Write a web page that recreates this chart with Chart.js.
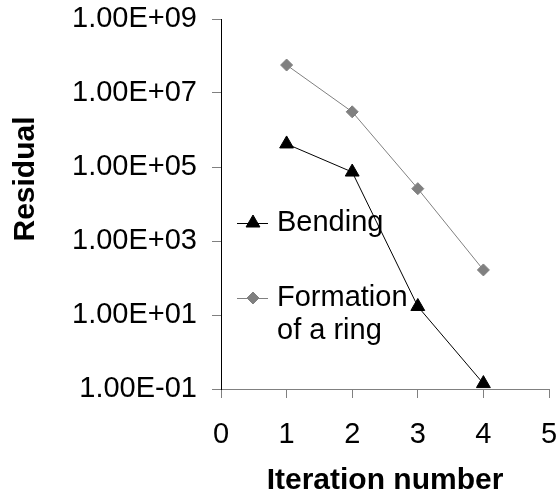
<!DOCTYPE html>
<html>
<head>
<meta charset="utf-8">
<script src="https://cdn.jsdelivr.net/npm/chart.js@4.4.0/dist/chart.umd.min.js"></script>
<style>
  html, body { margin: 0; padding: 0; background: #fff; }
  #wrap { width: 558px; height: 498px; }
</style>
</head>
<body>
<div id="wrap"><canvas id="residual-canvas" width="558" height="498"></canvas></div>
<script>
/* Residual vs iteration */
const iterations = [1, 2, 3, 4];
const bending = [4.2e5, 7.3e4, 17, 0.14];
const ring = [5.7e7, 3.1e6, 2.6e4, 165];
const yTicks = [1e-1, 1e1, 1e3, 1e5, 1e7, 1e9];
const yTickLabels = ['1.00E-01', '1.00E+01', '1.00E+03', '1.00E+05', '1.00E+07', '1.00E+09'];
const xTicks = [0, 1, 2, 3, 4, 5];
const seriesLabels = [['Bending'], ['Formation', 'of a ring']];

const FONT = '"Liberation Sans", Arial, sans-serif';

function points(ys){
  return iterations.map((x, i) => ({x: x, y: ys[i]}));
}

// no extra room for overflowing tick labels, layout padding decides
function noLabelPadding(s){
  s.paddingTop = 0;
  s.paddingBottom = 0;
  s.paddingLeft = 0;
  s.paddingRight = 0;
}

// legend sits inside the plot, drawn under the lines
const insideLegend = {
  id: 'insideLegend',
  beforeDatasetsDraw(chart){
    const ctx = chart.ctx;
    const a = chart.chartArea;
    const rows = [a.top + 204, a.top + 279];
    const x0 = a.left + 16;
    ctx.save();
    chart.data.datasets.forEach(function(ds, i){
      const y = rows[i];
      ctx.strokeStyle = ds.borderColor;
      ctx.fillStyle = ds.pointBackgroundColor;
      ctx.lineWidth = 1;
      ctx.beginPath();
      ctx.moveTo(x0, y + 0.5);
      ctx.lineTo(x0 + 31, y + 0.5);
      ctx.stroke();
      Chart.helpers.drawPoint(ctx, {
        pointStyle: ds.pointStyle, radius: ds.pointRadius, rotation: 0, borderWidth: 1
      }, x0 + 16, y);
      ctx.fillStyle = '#000';
      ctx.font = '29px ' + FONT;
      ctx.textAlign = 'left';
      ctx.textBaseline = 'middle';
      seriesLabels[i].forEach((line, j) => ctx.fillText(line, x0 + 40, y + j * 33));
    });
    ctx.restore();
  }
};

const yTitle = {
  id: 'yTitle',
  afterDraw(chart){
    const ctx = chart.ctx;
    ctx.save();
    ctx.translate(26, 179);
    ctx.rotate(-Math.PI / 2);
    ctx.fillStyle = '#000';
    ctx.font = 'bold 30px ' + FONT;
    ctx.textAlign = 'center';
    ctx.textBaseline = 'middle';
    ctx.fillText('Residual', 0, 0);
    ctx.restore();
  }
};

const ctx = document.getElementById('residual-canvas');
const myChart = new Chart(ctx, {
  type: 'line',
  plugins: [insideLegend, yTitle],
  data: {
    datasets: [{
      label: 'Bending',
      data: points(bending),
      borderColor: '#000000',
      backgroundColor: '#000000',
      pointBackgroundColor: '#000000',
      pointBorderColor: '#000000',
      pointStyle: 'triangle',
      pointRadius: 8,
      borderWidth: 1,
      tension: 0
    }, {
      label: 'Formation of a ring',
      data: points(ring),
      borderColor: '#808080',
      backgroundColor: '#808080',
      pointBackgroundColor: '#808080',
      pointBorderColor: '#808080',
      pointStyle: 'rectRot',
      pointRadius: 6,
      borderWidth: 1,
      tension: 0
    }]
  },
  options: {
    responsive: false,
    devicePixelRatio: 1,
    animation: false,
    clip: false,
    events: [],
    layout: {
      padding: {left: 0, top: 19, right: 9, bottom: 0}
    },
    plugins: {
      legend: false,
      tooltip: {enabled: false}
    },
    scales: {
      x: {
        type: 'linear',
        min: 0,
        max: 5,
        afterFit: s => { s.height = 109; noLabelPadding(s); },
        afterBuildTicks: s => { s.ticks = xTicks.map(v => ({value: v})); },
        grid: {drawOnChartArea: false, tickLength: 9, color: '#808080'},
        border: {color: '#808080', width: 1},
        ticks: {
          color: '#000',
          padding: 20,
          font: {family: FONT, size: 29}
        },
        title: {
          display: true,
          text: 'Iteration number',
          color: '#000',
          padding: {top: 0, bottom: 0},
          font: {family: FONT, size: 30, weight: 'bold', lineHeight: 1.15}
        }
      },
      y: {
        type: 'logarithmic',
        min: 1e-1,
        max: 1e9,
        afterFit: s => { s.width = 221; noLabelPadding(s); },
        afterBuildTicks: s => { s.ticks = yTicks.map(v => ({value: v})); },
        grid: {drawOnChartArea: false, tickLength: 9, color: '#808080'},
        border: {color: '#000000', width: 1},
        ticks: {
          color: '#000',
          padding: 15,
          font: {family: FONT, size: 29},
          callback: v => yTickLabels[yTicks.indexOf(v)]
        }
      }
    }
  }
});
</script>
</body>
</html>
